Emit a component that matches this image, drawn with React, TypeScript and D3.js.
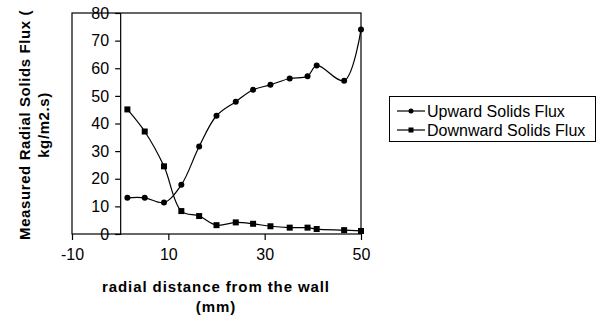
import { useEffect, useRef } from 'react';
import * as d3 from 'd3';

// radial distance from the wall (mm)
const distances = [1.5, 5.1, 9.1, 12.7, 16.4, 20.0, 24.0, 27.6, 31.2, 35.2, 38.9, 40.8, 46.5, 50];
const upwardFlux = [13.1, 13.1, 11.4, 17.8, 31.7, 42.8, 47.9, 52.2, 54.0, 56.3, 57.1, 61.0, 55.5, 74.0];
const downwardFlux = [45.1, 37.1, 24.5, 8.3, 6.5, 3.2, 4.2, 3.7, 2.8, 2.3, 2.3, 1.8, 1.4, 1.1];
const xTicks = [-10, 10, 30, 50];
const yTicks = [0, 10, 20, 30, 40, 50, 60, 70, 80];
const seriesNames = ['Upward Solids Flux', 'Downward Solids Flux'];

const FONT = 'Arial, "Liberation Sans", sans-serif';

export default function App() {
    const svgRef = useRef<SVGSVGElement>(null);

    useEffect(() => {
        if (!svgRef.current) return;
        const svg = d3.select(svgRef.current);
        svg.selectAll('*').remove();

        const plot = { left: 72, right: 361, top: 13, bottom: 234 };

        const x = d3.scaleLinear().domain([-10, 50]).range([plot.left, plot.right]);
        const y = d3.scaleLinear().domain([0, 80]).range([plot.bottom, plot.top]);

        // plot frame
        svg.append('rect')
            .attr('x', plot.left)
            .attr('y', plot.top)
            .attr('width', plot.right - plot.left)
            .attr('height', plot.bottom - plot.top)
            .attr('fill', 'none')
            .attr('stroke', '#000')
            .attr('stroke-width', 1.2);

        // x axis (plain hyphen for negatives, like the original)
        const xAxis = svg.append('g')
            .attr('transform', `translate(0,${plot.bottom})`)
            .call(d3.axisBottom(x).tickValues(xTicks).tickSize(6).tickPadding(9).tickFormat(d => String(d)));
        xAxis.select('.domain').remove();
        xAxis.selectAll('line').attr('stroke', '#000').attr('stroke-width', 1.2);
        xAxis.selectAll('text')
            .attr('font-family', FONT)
            .attr('font-size', 16)
            .attr('fill', '#000');

        // y axis at x = 0
        const yAxis = svg.append('g')
            .attr('transform', `translate(${x(0)},0)`)
            .call(d3.axisLeft(y).tickValues(yTicks).tickSize(5).tickPadding(6).tickFormat(d => String(d)));
        yAxis.select('.domain').attr('stroke', '#000').attr('stroke-width', 1.2);
        yAxis.selectAll('line').attr('stroke', '#000').attr('stroke-width', 1.2);
        yAxis.selectAll('text')
            .attr('font-family', FONT)
            .attr('font-size', 16)
            .attr('fill', '#000');

        // lines
        const line = d3.line<number>()
            .x((_, i) => x(distances[i]))
            .y(d => y(d))
            .curve(d3.curveCatmullRom.alpha(0.5));

        svg.append('path')
            .datum(upwardFlux)
            .attr('d', line)
            .attr('fill', 'none')
            .attr('stroke', '#000')
            .attr('stroke-width', 1.2);

        svg.append('path')
            .datum(downwardFlux)
            .attr('d', line)
            .attr('fill', 'none')
            .attr('stroke', '#000')
            .attr('stroke-width', 1.2);

        // markers
        svg.selectAll('.up-marker')
            .data(upwardFlux)
            .enter()
            .append('circle')
            .attr('cx', (_, i) => x(distances[i]))
            .attr('cy', d => y(d))
            .attr('r', 3)
            .attr('fill', '#000');

        svg.selectAll('.down-marker')
            .data(downwardFlux)
            .enter()
            .append('rect')
            .attr('x', (_, i) => x(distances[i]) - 3)
            .attr('y', d => y(d) - 3)
            .attr('width', 6)
            .attr('height', 6)
            .attr('fill', '#000');

        // axis titles
        const yTitle = svg.append('text')
            .attr('transform', 'translate(30,125) rotate(-90)')
            .attr('text-anchor', 'middle')
            .attr('font-family', FONT)
            .attr('font-size', 15)
            .attr('font-weight', 'bold')
            .attr('letter-spacing', 0.6)
            .attr('fill', '#000');
        yTitle.append('tspan').attr('x', 0).attr('y', 0).text('Measured Radial Solids Flux (');
        yTitle.append('tspan').attr('x', 0).attr('y', 19).text('kg/m2.s)');

        const xTitle = svg.append('text')
            .attr('text-anchor', 'middle')
            .attr('font-family', FONT)
            .attr('font-size', 15)
            .attr('font-weight', 'bold')
            .attr('letter-spacing', 0.9)
            .attr('fill', '#000');
        xTitle.append('tspan').attr('x', 216).attr('y', 292).text('radial distance from the wall');
        xTitle.append('tspan').attr('x', 216).attr('y', 312).text('(mm)');

        // legend
        const legend = svg.append('g');
        legend.append('rect')
            .attr('x', 389.5)
            .attr('y', 96.5)
            .attr('width', 206)
            .attr('height', 45)
            .attr('fill', '#fff')
            .attr('stroke', '#000')
            .attr('stroke-width', 1);

        seriesNames.forEach((name, i) => {
            const cy = 111 + i * 19;
            legend.append('line')
                .attr('x1', 397).attr('x2', 425)
                .attr('y1', cy).attr('y2', cy)
                .attr('stroke', '#000')
                .attr('stroke-width', 1.2);
            if (i === 0) {
                legend.append('circle').attr('cx', 411).attr('cy', cy).attr('r', 2.5).attr('fill', '#000');
            } else {
                legend.append('rect').attr('x', 408.5).attr('y', cy - 2.5).attr('width', 5).attr('height', 5).attr('fill', '#000');
            }
            legend.append('text')
                .attr('x', 427)
                .attr('y', cy + 5.5)
                .attr('font-family', FONT)
                .attr('font-size', 16)
                .attr('fill', '#000')
                .text(name);
        });
    }, []);

    return (
        <svg
            ref={svgRef}
            width={607}
            height={325}
            style={{ position: 'absolute', left: 0, top: 0, background: '#fff' }}
        />
    );
}
